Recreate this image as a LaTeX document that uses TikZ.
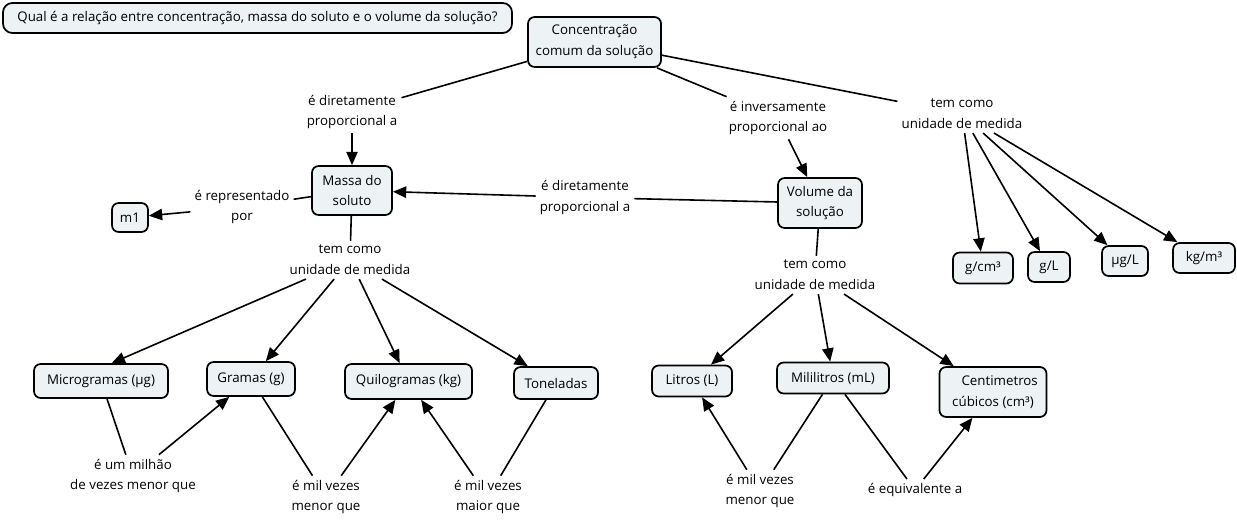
\documentclass[tikz,border=0pt]{standalone}
\usepackage{fontspec}
\setmainfont{Open Sans}
\usetikzlibrary{arrows.meta}
\definecolor{boxfill}{RGB}{237,242,245}
\begin{document}
\begin{tikzpicture}[x=0.75pt,y=-0.75pt,
  every node/.style={font=\fontsize{10pt}{15.5pt}\selectfont, align=center},
  concept/.style={draw=black, line width=1.3pt, fill=boxfill, rounded corners=5pt, inner sep=2pt},
  linklabel/.style={inner sep=3pt},
  conn/.style={line width=1.2pt},
  arr/.style={conn, -{Triangle[length=10pt,width=8.5pt]}},
]
\useasboundingbox (0,0) rectangle (1237,520);

% concepts
\node[concept, rounded corners=7pt, minimum width=509*.75pt, minimum height=30*.75pt] (q) at (257.5,18) {Qual é a relação entre concentração, massa do soluto e o volume da solução?};
\node[concept, minimum width=133*.75pt, minimum height=50*.75pt] (conc) at (594.5,42) {Concentração\\comum da solução};
\node[concept, minimum width=80*.75pt, minimum height=49*.75pt] (massa) at (352,190.5) {Massa do\\soluto};
\node[concept, minimum width=36*.75pt, minimum height=29*.75pt] (m1) at (130,217.5) {m1};
\node[concept, minimum width=84*.75pt, minimum height=50*.75pt] (vol) at (820,203) {Volume da\\solução};
\node[concept, minimum width=60*.75pt, minimum height=31*.75pt] (gcm) at (983,268) {g/cm³};
\node[concept, minimum width=42*.75pt, minimum height=30*.75pt] (gl) at (1049,267) {g/L};
\node[concept, minimum width=46*.75pt, minimum height=30*.75pt] (ugl) at (1125,261) {µg/L};
\node[concept, minimum width=62*.75pt, minimum height=30*.75pt] (kgm) at (1204,258) {kg/m³};
\node[concept, minimum width=134*.75pt, minimum height=34*.75pt] (micro) at (101,381) {Microgramas (µg)};
\node[concept, minimum width=88*.75pt, minimum height=34*.75pt] (gramas) at (251,379) {Gramas (g)};
\node[concept, minimum width=127*.75pt, minimum height=35*.75pt] (quilo) at (408.5,381.5) {Quilogramas (kg)};
\node[concept, minimum width=84*.75pt, minimum height=32*.75pt] (ton) at (556,383) {Toneladas};
\node[concept, minimum width=80*.75pt, minimum height=31*.75pt] (litros) at (692,381) {Litros (L)};
\node[concept, minimum width=112*.75pt, minimum height=31*.75pt] (mili) at (833,378) {Mililitros (mL)};
\node[concept, minimum width=107*.75pt, minimum height=50*.75pt] (cent) at (993,392) {\hspace*{1em}Centimetros\\cúbicos (cm³)};

% linking phrases
\node[linklabel] (l1) at (352,112) {é diretamente\\proporcional a};
\node[linklabel] (l2) at (778,118) {é inversamente\\proporcional ao};
\node[linklabel] (l3) at (962,114) {tem como\\unidade de medida};
\node[linklabel] (l4) at (242,207) {é representado\\por};
\node[linklabel] (l5) at (585,197.5) {é diretamente\\proporcional a};
\node[linklabel] (l6) at (350,260) {tem como\\unidade de medida};
\node[linklabel] (l7) at (133,476) {é um milhão\\de vezes menor que};
\node[linklabel] (l8) at (326,497) {é mil vezes\\menor que};
\node[linklabel] (l9) at (488,497) {é mil vezes\\maior que};
\node[linklabel] (l10) at (815,275) {tem como\\unidade de medida};
\node[linklabel] (l11) at (760,491) {é mil vezes\\menor que};
\node[linklabel] (l12) at (915,490) {é equivalente a};

% connectors
\draw[conn] (conc) -- (l1);
\draw[arr] (l1) -- (massa);
\draw[conn] (conc) -- (l2);
\draw[arr] (l2) -- (vol);
\draw[conn] (conc) -- (l3);
\draw[arr] (l3) -- (gcm);
\draw[arr] (l3) -- (gl);
\draw[arr] (l3) -- (ugl);
\draw[arr] (l3) -- (kgm);

\draw[conn] (massa) -- (l4);
\draw[arr] (l4) -- (m1);
\draw[conn] (vol) -- (l5);
\draw[arr] (l5) -- (massa);

\draw[conn] (massa) -- (l6);
\draw[arr] (l6) -- ([xshift=8pt]micro.north);
\draw[arr] (l6) -- (gramas);
\draw[arr] (l6) -- (quilo);
\draw[arr] (l6) -- (ton);

\draw[conn] (vol) -- (l10);
\draw[arr] (l10) -- (litros);
\draw[arr] (l10) -- (mili);
\draw[arr] (l10) -- (cent);

\draw[conn] (micro) -- (l7);
\draw[arr] (l7) -- (gramas);
\draw[conn] (gramas) -- (l8);
\draw[arr] (l8) -- (quilo);
\draw[conn] (ton) -- (l9);
\draw[arr] (l9) -- (quilo);
\draw[conn] (mili) -- (l11);
\draw[arr] (l11) -- (litros);
\draw[conn] (mili) -- (l12);
\draw[arr] (l12) -- (cent);
\end{tikzpicture}
\end{document}
